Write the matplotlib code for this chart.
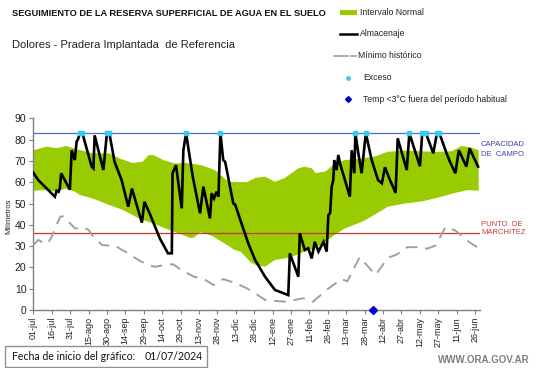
import matplotlib
matplotlib.use("Agg")
import matplotlib.pyplot as plt
from matplotlib.lines import Line2D
from matplotlib.patches import Rectangle
import numpy as np

plt.rcParams['font.family'] = ['Liberation Sans', 'DejaVu Sans']

# ---------------- data (days since 01/07/2024, millimetres) ----------------
tick_days = list(range(0, 361, 15))
tick_labels = ['01-jul', '16-jul', '31-jul', '15-ago', '30-ago', '14-sep', '29-sep',
               '14-oct', '29-oct', '13-nov', '28-nov', '13-dic', '28-dic', '12-ene',
               '27-ene', '11-feb', '26-feb', '13-mar', '28-mar', '12-abr', '27-abr',
               '12-may', '27-may', '11-jun', '26-jun']

upper_days = [0, 11, 19, 27, 35, 49, 62, 71, 81, 89, 94, 98, 106, 115, 125, 137, 148,
              159, 174, 181, 189, 197, 205, 216, 221, 227, 230, 238, 246, 254, 266,
              278, 289, 303, 316, 330, 341, 349, 356, 363]
upper_vals = [75, 76.7, 76, 77, 75.5, 73.5, 73.5, 71, 69, 69.6, 72.7, 72.7, 70.4, 68.8,
              69, 68, 65.7, 60.2, 60, 62, 62.6, 60.2, 62, 66.5, 67.3, 66.5, 64.3, 65,
              68.8, 70.4, 71, 72, 74.3, 74.8, 74.5, 74.3, 74.5, 77, 76.4, 75]

lower_days = [0, 10, 19, 26, 34, 38, 48, 61, 73, 86, 98, 110, 122, 128, 131, 136, 140,
              147, 151, 158, 164, 169, 177, 181, 189, 193, 197, 205, 213, 221, 230,
              238, 246, 254, 266, 270, 279, 289, 303, 317, 330, 344, 354, 363]
lower_vals = [56, 56.3, 55.5, 57, 55.5, 54, 52.4, 49.5, 47, 43, 40.5, 37.8, 35.2, 33.8,
              34, 36.5, 36, 34.4, 32.9, 30.5, 28.2, 27.4, 22.5, 21.2, 20.3, 22, 23.5,
              24.2, 25.5, 27.4, 29, 32, 35.5, 38.3, 41, 42, 45, 48.5, 50, 51, 52.8,
              55, 56.3, 56]

alm_days = [0, 4, 17.6, 19, 20.6, 21.6, 22.7, 29.8, 31.3, 33.8, 35.3, 36.3, 38, 40,
            47.6, 49, 50, 57.1, 60, 62, 66.2, 72, 77.4, 80.4, 88.5, 90.6, 95.1, 103.2,
            109.8, 112.9, 113.5, 116.3, 121, 122.3, 124.5, 130, 135.9, 138.6, 144,
            145.3, 147.3, 149.3, 150.9, 152.5, 154.8, 156.4, 163, 164.5, 175.2, 180.8,
            188.9, 197, 207.8, 209.1, 216, 217.2, 221.3, 224.1, 226.9, 229.4, 232.4,
            236.5, 239.1, 240.5, 241.9, 243.2, 244.5, 245.3, 247.2, 248.6, 250, 254,
            258, 259.5, 261.6, 262.5, 264.9, 267.6, 271, 275.8, 281, 284.1, 286.6,
            290.7, 295.3, 297, 304.4, 306.5, 315.1, 317, 320, 326, 329, 331, 336.8,
            339.6, 344, 346.8, 353, 355.6, 362.5]
alm_vals = [64.5, 61, 53.2, 56, 55.5, 57, 64.2, 56.5, 75, 70.4, 79, 80, 83, 83,
            67.3, 66.5, 82, 65.7, 83, 83, 69.6, 61, 48.5, 57, 41, 50.8, 45, 33.5,
            26.6, 26.6, 64.2, 68, 47.7, 75, 83, 62.5, 45.4, 57.9, 43,
            54.8, 52.4, 55.5, 53.2, 83, 70.4, 69.5, 50, 49.5, 31.3, 23.5,
            15.6, 9.4, 7, 26.6, 15.6, 36, 28.2, 29, 24.2, 32, 27.4,
            32, 27.4, 44.6, 45.4, 57.9, 61, 70.4, 65.7, 72.8, 68.8, 61,
            53.2, 75, 64.2, 83, 73.6, 64.2, 83, 70.4, 61, 59.5, 67,
            61, 55, 80.6, 65.7, 83, 67.5, 83, 83, 73.6, 83, 83, 73.6,
            69.6, 64.2, 75, 67.3, 75.9, 67.3]

min_days = [0, 4, 8, 12, 15, 19, 22, 24.5, 30, 34, 38, 41, 45, 49, 56, 67, 75, 87, 95,
            99, 107, 114, 120, 131, 139, 147, 154.7, 164, 173, 181, 189, 205, 213, 220,
            228, 239, 251, 256, 266, 279, 289, 296, 305, 315, 321, 328, 336, 344, 355,
            363]
min_vals = [30.5, 32.9, 31.6, 31.3, 34.4, 40, 43.8, 44, 40.7, 38.3, 38.3, 38.8, 37.6,
            34.4, 30.5, 30, 27.4, 23, 21, 20.3, 21.1, 21.5, 19, 15.6, 14.5, 11.7, 14.5,
            12.8, 10.5, 7.8, 4.7, 3.9, 4.7, 5.5, 3.9, 9.4, 14.5, 13.5, 24.8, 16.5, 24.5,
            26, 29.5, 29.5, 28.8, 30.3, 39, 37.3, 32, 29]

exceso_days = [38, 40, 60, 62, 124.5, 152.5, 262.5, 271, 306.5, 317, 320, 329, 331]
exceso_level = 83
helada_days = [277]
capacidad = 83
marchitez = 36

# ---------------- figure ----------------
W, H = 541, 368
fig = plt.figure(figsize=(W / 100, H / 100), dpi=100)


def px(x0, y0, x1, y1):
    return [x0 / W, 1 - y1 / H, (x1 - x0) / W, (y1 - y0) / H]


ax = fig.add_axes(px(33.3, 118.3, 479.9, 310))
ax.set_xlim(0, 364)
ax.set_ylim(0, 90)

green = '#99cc00'
band_x = list(upper_days) + list(lower_days[::-1])
band_y = list(upper_vals) + list(lower_vals[::-1])
ax.fill(band_x, band_y, color=green, lw=0, zorder=1)

ax.axhline(capacidad, color='#4a6fcf', lw=0.9, zorder=2)
ax.axhline(marchitez, color='#c0392b', lw=0.9, zorder=2)

ax.plot(min_days, min_vals, color='#a0a0a0', lw=1.4, dashes=(6, 4), zorder=3)
ax.plot(alm_days, alm_vals, color='black', lw=1.9, zorder=4, solid_joinstyle='miter')
ax.plot(exceso_days, [exceso_level] * len(exceso_days), ls='none', marker='s',
        ms=3.2, color='#33ccee', mec='#33ccee', zorder=5)
ax.plot(helada_days, [0] * len(helada_days), ls='none', marker='D', ms=4.5,
        color='#0000cc', zorder=6, clip_on=False)

for s in ['top', 'right']:
    ax.spines[s].set_visible(False)
for s in ['left', 'bottom']:
    ax.spines[s].set_color('#808080')
    ax.spines[s].set_linewidth(1.0)

ax.set_yticks(range(0, 91, 10))
ax.tick_params(axis='y', labelsize=7.5, length=3, color='#808080', pad=2,
               labelcolor='#222222')
ax.set_xticks(tick_days)
ax.set_xticklabels(tick_labels, rotation=90)
ax.tick_params(axis='x', labelsize=6.5, length=3, color='#808080', pad=2,
               labelcolor='#222222')

# right-side labels
fig.text(481 / W, 1 - 145 / H, 'CAPACIDAD', color='#3f3fa8', fontsize=5.5,
         ha='left', va='center')
fig.text(481 / W, 1 - 154 / H, 'DE  CAMPO', color='#3f3fa8', fontsize=5.5,
         ha='left', va='center')
fig.text(481 / W, 1 - 224 / H, 'PUNTO  DE', color='#c83a3a', fontsize=5.5,
         ha='left', va='center')
fig.text(481 / W, 1 - 233 / H, 'MARCHITEZ', color='#c83a3a', fontsize=5.5,
         ha='left', va='center')

fig.text(9 / W, 1 - 216 / H, 'Milímetros', rotation=90, fontsize=5.5,
         ha='center', va='center', color='#222222')

# titles
fig.text(12 / W, 1 - 14 / H, 'SEGUIMIENTO DE LA RESERVA SUPERFICIAL DE AGUA EN EL SUELO',
         fontsize=6.65, fontweight='bold', ha='left', va='center', color='#111111')
fig.text(12 / W, 1 - 45 / H, 'Dolores - Pradera Implantada  de Referencia',
         fontsize=8.0, ha='left', va='center', color='#222222')

# legend (drawn in a pixel-coordinate overlay)
lg = fig.add_axes([0, 0, 1, 1], zorder=10)
lg.set_xlim(0, W)
lg.set_ylim(H, 0)
lg.axis('off')
lg.add_patch(Rectangle((340, 10), 17, 5, color=green, lw=0))
lg.add_line(Line2D([340, 357], [34, 34], color='black', lw=1.8))
lg.add_line(Line2D([334, 348], [56, 56], color='#a0a0a0', lw=1.2))
lg.add_line(Line2D([351, 356], [56, 56], color='#a0a0a0', lw=1.2))
lg.plot([348], [78], marker='o', ms=2.5, color='#33ccee', ls='none')
lg.plot([348], [99], marker='D', ms=3, color='#0000cc', ls='none')
leg_items = [(360, 12.5, 'Intervalo Normal'), (360, 34, 'Almacenaje'),
             (358, 56, 'Mínimo histórico'), (363, 77.5, 'Exceso'),
             (363, 99, 'Temp <3°C fuera del período habitual')]
for x, y, t in leg_items:
    lg.text(x, y, t, fontsize=6.2, ha='left', va='center', color='#222222')

# bottom box
lg.add_patch(Rectangle((5, 346), 202, 21, fill=False, ec='#9a8a8a', lw=1.0))
lg.text(12, 357, 'Fecha de inicio del gráfico:', fontsize=7.6, family=['Lato', 'DejaVu Sans'],
        ha='left', va='center', color='#111111')
lg.text(145, 357, '01/07/2024', fontsize=7.6, family=['Lato', 'DejaVu Sans'],
        ha='left', va='center', color='#111111')
lg.text(530, 360, 'WWW.ORA.GOV.AR', fontsize=7, fontweight='bold', ha='right',
        va='center', color='#7f7f7f')

fig.savefig('out.png', dpi=100)
